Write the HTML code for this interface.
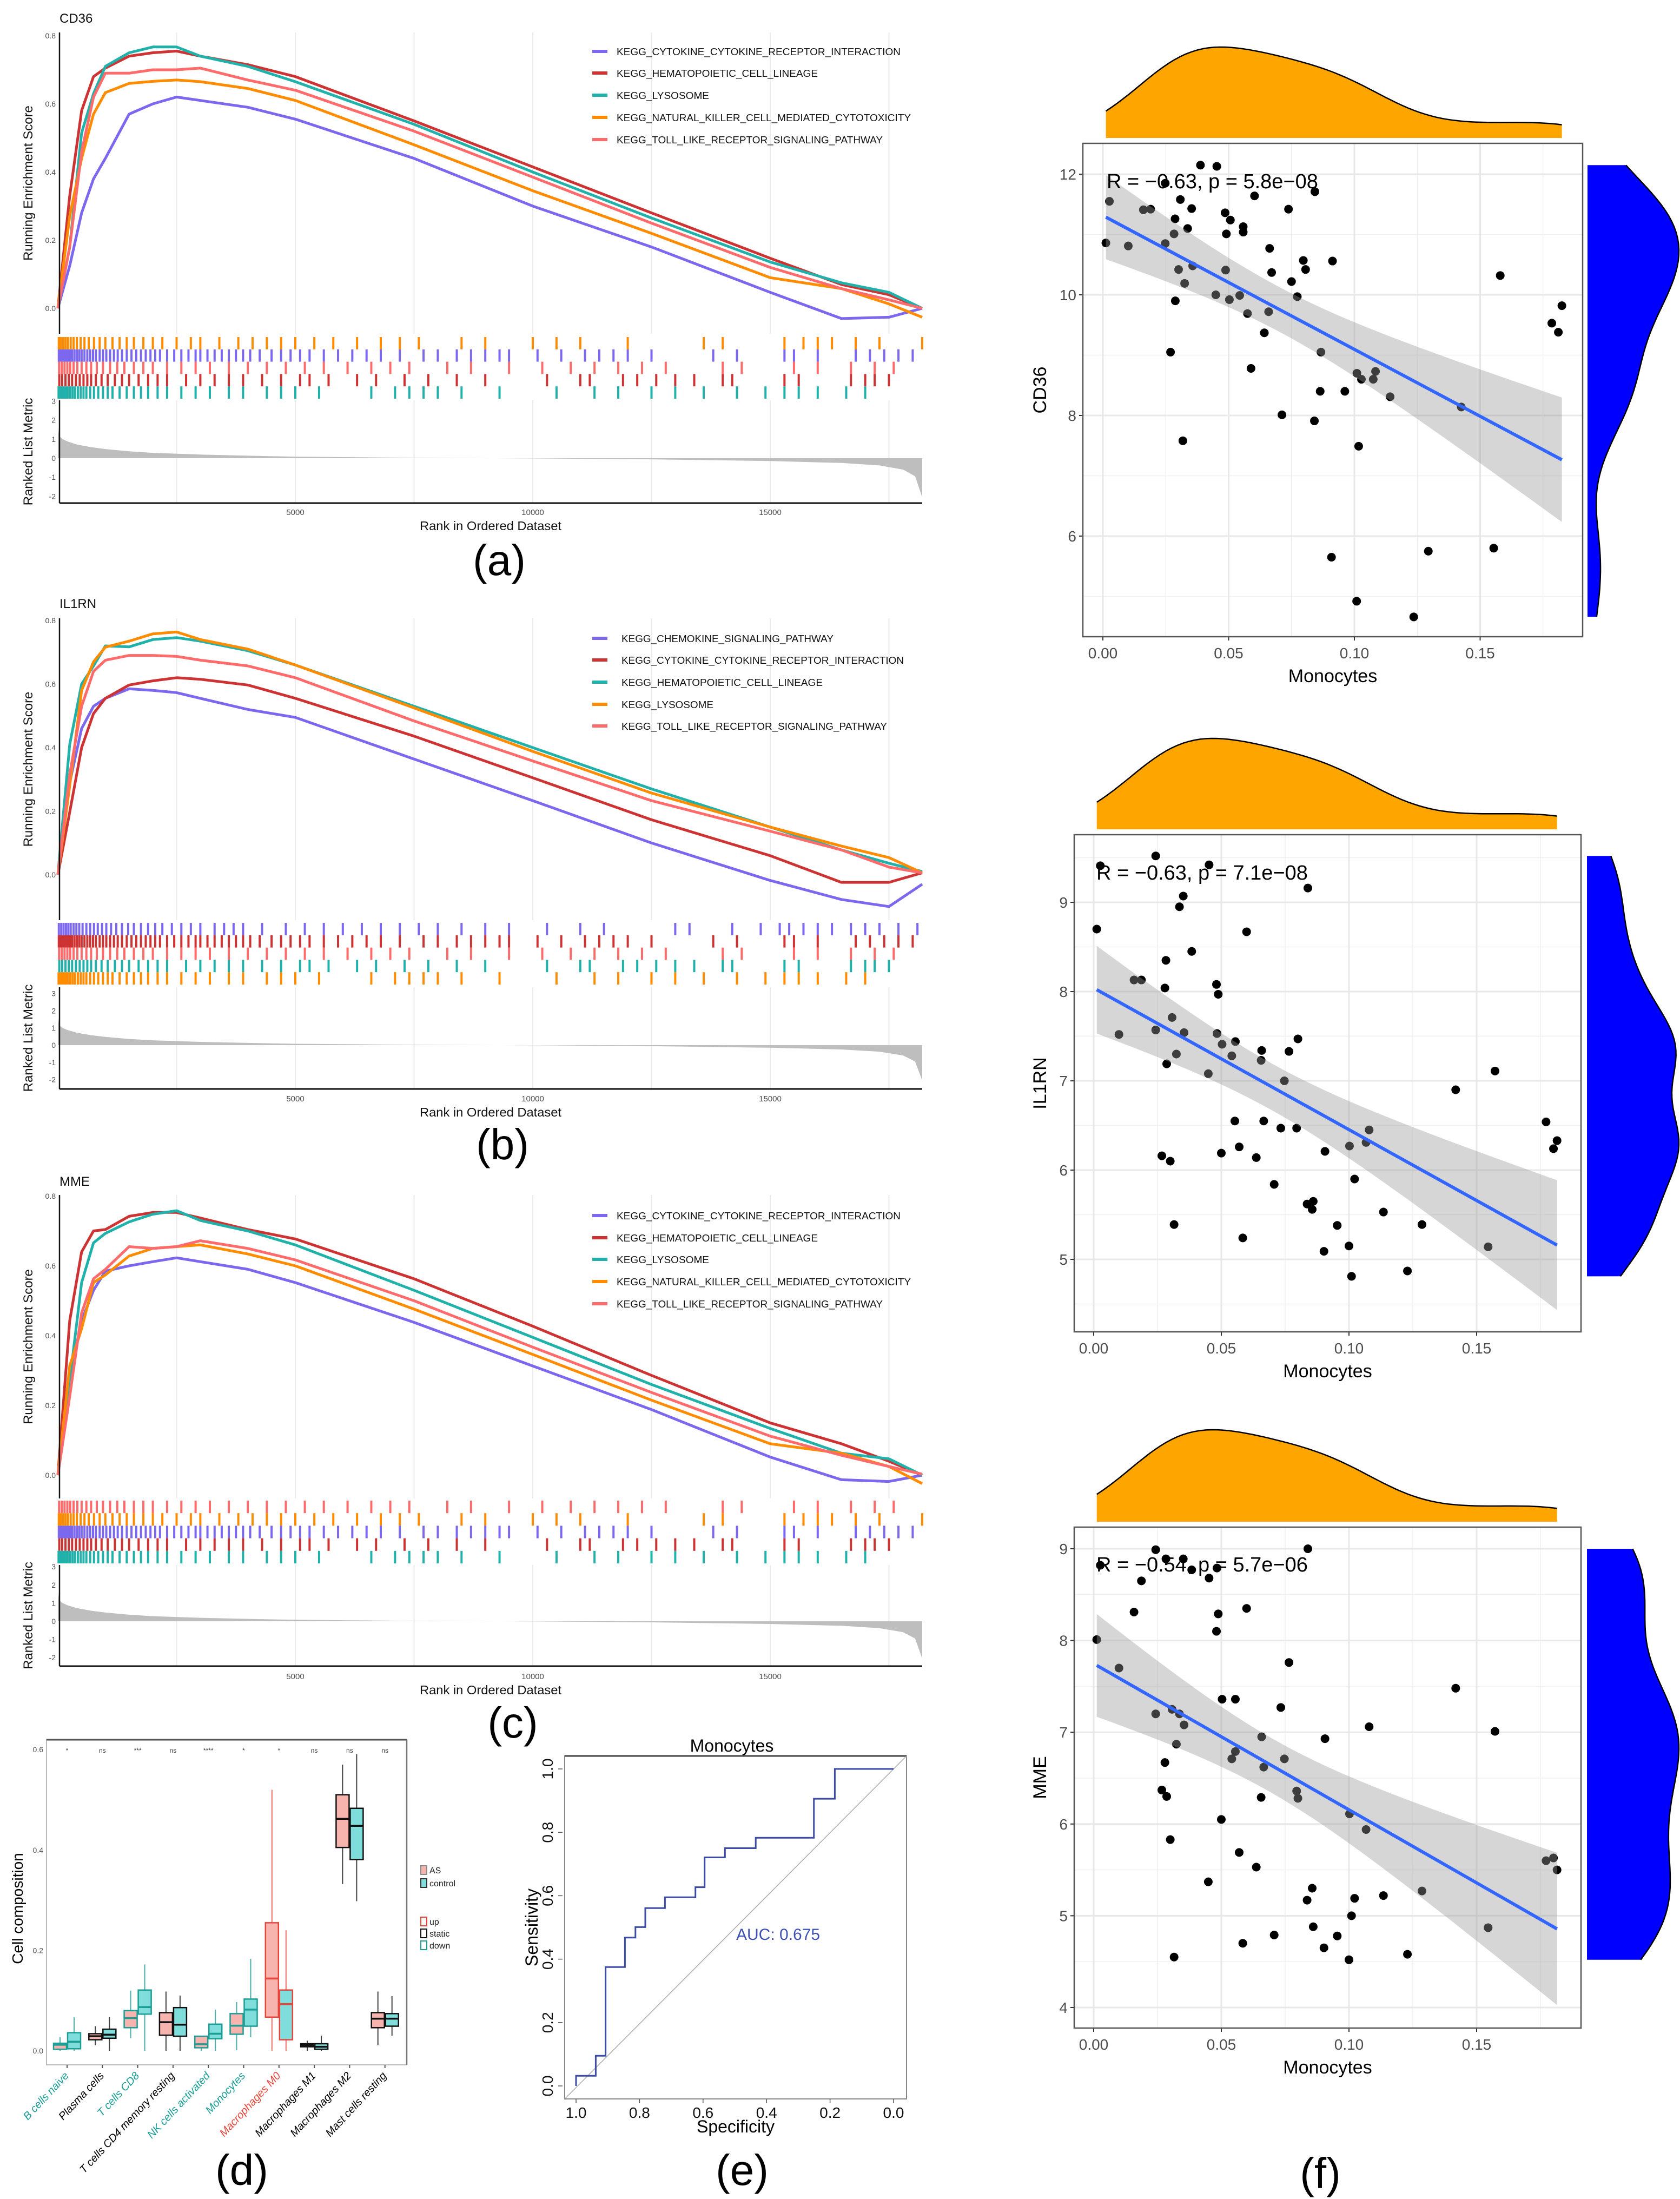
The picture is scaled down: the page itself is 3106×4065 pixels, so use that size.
<!DOCTYPE html>
<html><head><meta charset="utf-8"><title>Figure</title>
<style>html,body{margin:0;padding:0;background:#fff}svg{display:block}</style>
</head><body>
<svg id="fig" width="3106" height="4065" viewBox="0 0 3106 4065" xmlns="http://www.w3.org/2000/svg" font-family="Liberation Sans, Arial, sans-serif"></svg>
<script>
// ---------------- DATA ----------------
const gseaRanks=[0,250,500,750,1000,1500,2000,2500,3000,4000,5000,7500,10000,12500,15000,16500,17500,18200];
// Panel a (CD36)
const esA_cytokine=[0,0.125,0.28,0.38,0.44,0.57,0.60,0.62,0.61,0.59,0.555,0.44,0.30,0.18,0.047,-0.03,-0.026,0];
const esA_hemato=[0,0.33,0.58,0.68,0.705,0.74,0.75,0.755,0.74,0.715,0.68,0.55,0.415,0.28,0.147,0.07,0.04,0];
const esA_lyso=[0,0.18,0.515,0.63,0.71,0.75,0.767,0.767,0.74,0.71,0.665,0.54,0.40,0.265,0.136,0.075,0.047,0];
const esA_nk=[0,0.27,0.44,0.57,0.633,0.66,0.666,0.67,0.665,0.645,0.61,0.48,0.345,0.22,0.09,0.058,0.013,-0.026];
const esA_toll=[0,0.18,0.46,0.62,0.69,0.69,0.70,0.70,0.705,0.67,0.64,0.52,0.385,0.25,0.12,0.058,0.025,0];
// Panel b (IL1RN)
const esB_chemokine=[0,0.29,0.46,0.53,0.555,0.585,0.58,0.573,0.555,0.52,0.495,0.364,0.233,0.10,-0.018,-0.078,-0.10,-0.03];
const esB_cytokine=[0,0.197,0.40,0.507,0.555,0.597,0.61,0.62,0.615,0.597,0.555,0.436,0.305,0.173,0.06,-0.024,-0.024,0.006];
const esB_hemato=[0,0.41,0.60,0.657,0.72,0.717,0.74,0.746,0.735,0.705,0.66,0.53,0.40,0.27,0.15,0.078,0.036,0.01];
const esB_lyso=[0,0.28,0.58,0.67,0.716,0.735,0.758,0.764,0.74,0.71,0.66,0.525,0.388,0.257,0.15,0.09,0.054,0.006];
const esB_toll=[0,0.316,0.53,0.64,0.675,0.69,0.69,0.687,0.675,0.657,0.62,0.484,0.358,0.233,0.137,0.078,0.024,0.006];
// Panel c (MME)
const esC_cytokine=[0,0.28,0.443,0.53,0.585,0.60,0.612,0.623,0.612,0.59,0.552,0.438,0.313,0.188,0.052,-0.013,-0.018,0];
const esC_hemato=[0,0.443,0.64,0.70,0.704,0.742,0.753,0.753,0.737,0.704,0.677,0.563,0.427,0.286,0.15,0.09,0.04,0];
const esC_lyso=[0,0.27,0.552,0.666,0.693,0.726,0.748,0.758,0.73,0.70,0.66,0.53,0.395,0.26,0.134,0.063,0.047,0];
const esC_nk=[0,0.313,0.42,0.552,0.574,0.628,0.65,0.655,0.66,0.634,0.60,0.476,0.346,0.215,0.09,0.063,0.025,-0.024];
const esC_toll=[0,0.226,0.465,0.563,0.59,0.655,0.65,0.655,0.672,0.65,0.617,0.50,0.367,0.237,0.112,0.057,0.025,0.003];
// gene-set hit ranks (rug)
const hitsCytokine=[20,60,100,140,180,220,260,300,350,400,450,500,560,620,680,740,800,880,950,1020,1100,1180,1260,1350,1450,1550,1650,1750,1850,1950,2050,2150,2300,2450,2600,2750,2900,3000,3150,3300,3450,3600,3750,3900,4050,4250,4500,4700,4900,5100,5300,5600,5900,6200,6500,6800,7200,7700,8000,8400,8700,9000,9300,9500,10100,10600,11100,11400,11700,12000,12500,13800,14300,15300,15500,16000,16800,17100,17400,17700,18000];
const hitsChemokine=[20,70,120,170,220,270,330,390,450,520,600,680,760,840,930,1020,1120,1230,1350,1480,1600,1750,1900,2050,2200,2400,2600,2800,3000,3300,3500,3700,3900,4300,4800,5200,5600,6000,6400,6800,7200,7600,8000,8500,9000,9500,10300,11000,11500,13000,13300,14200,14800,15200,15400,15700,16000,16300,16700,17000,17300,17700,18100];
const hitsHemato=[30,90,160,230,300,380,460,540,620,700,800,920,1050,1200,1350,1500,1700,1900,2100,2300,2700,3000,3300,3600,3900,4300,4700,5100,5300,5700,6300,6700,7300,7800,8400,9000,10300,11000,11200,11900,12200,12600,13000,13400,14000,14200,15300,15600,16700,17000,17200,17500];
const hitsLyso=[15,50,90,130,170,210,260,310,360,420,480,540,600,680,760,850,950,1050,1150,1300,1450,1600,1750,1900,2100,2300,2600,2900,3200,3600,3900,4400,4700,5000,5500,6600,7100,7400,7700,8000,8500,9300,10500,11300,11800,12500,13000,13600,14300,14900,15300,15600,16000,16600,17000];
const hitsNK=[20,60,110,160,210,270,330,400,480,560,650,760,880,1000,1150,1300,1450,1600,1800,2000,2200,2500,2800,3000,3400,3800,4100,4400,4700,5000,5400,5800,6300,6800,7200,7600,8500,9000,10000,10500,11000,12000,13600,14000,15300,15700,16000,16300,16800,17300,18200];
const hitsToll=[25,80,140,200,260,330,410,500,600,700,820,950,1100,1250,1400,1600,1800,2000,2300,2600,2900,3200,3600,4000,4400,4800,5200,5600,6100,6600,7000,7400,8200,8700,9500,10200,10800,11300,11800,12300,12800,14000,14400,15500,16000,16700,17200,17600];
// ranked list metric
const metricRanks=[0,30,100,200,400,700,1000,1500,2000,3000,4000,5000,7500,10000,12500,15000,16500,17300,17800,18050,18200];
const metricVals=[1.6,1.15,1.0,0.88,0.72,0.58,0.48,0.36,0.28,0.19,0.13,0.08,0.02,-0.01,-0.06,-0.15,-0.25,-0.38,-0.6,-0.95,-2.05];

// Scatter (f) data: Monocytes fraction
const monoF1=[0.0388,0.0453,0.0026,0.0248,0.0308,0.0603,0.0843,0.0161,0.019,0.0353,0.0738,0.0287,0.0486,0.0507,0.0337,0.0283,0.0491,0.0558,0.0558,0.0012,0.0101,0.0248,0.0663,0.0797,0.0913,0.0357,0.0301,0.0488,0.0671,0.0806,0.0325,0.075,0.158,0.0449,0.0544,0.0773,0.0288,0.0503,0.1825,0.0575,0.0659,0.1785,0.1811,0.0642,0.0269,0.0867,0.0589,0.101,0.1028,0.1084,0.1075,0.0864,0.0962,0.1142,0.1425,0.0712,0.0841,0.0318,0.1017,0.0909,0.1294,0.1554,0.1009,0.1236];
const cd36=[12.15,12.13,11.55,11.85,11.58,11.64,11.71,11.41,11.42,11.43,11.42,11.26,11.36,11.24,11.10,11.01,11.01,11.13,11.04,10.86,10.81,10.85,10.77,10.57,10.56,10.48,10.42,10.41,10.37,10.42,10.19,10.22,10.32,10.0,9.99,9.97,9.90,9.92,9.82,9.69,9.72,9.53,9.38,9.37,9.05,9.05,8.78,8.70,8.60,8.73,8.60,8.40,8.40,8.31,8.14,8.01,7.91,7.58,7.49,5.65,5.75,5.80,4.92,4.66];
const monoF2=[0.0026,0.0243,0.0452,0.0839,0.0351,0.0336,0.0012,0.0599,0.0384,0.0283,0.0158,0.0187,0.0481,0.0279,0.0488,0.0307,0.0099,0.0243,0.0354,0.0483,0.080,0.0503,0.0555,0.0658,0.0765,0.0324,0.0541,0.0656,0.0286,0.0449,0.1572,0.0747,0.1418,0.0553,0.0666,0.0733,0.0795,0.1079,0.1772,0.1815,0.1801,0.1067,0.1002,0.057,0.0906,0.050,0.0267,0.030,0.0637,0.1022,0.0707,0.0836,0.086,0.0856,0.1135,0.0315,0.0954,0.1286,0.0584,0.1545,0.0902,0.10,0.1229,0.101];
const il1rn=[9.41,9.52,9.42,9.16,9.07,8.95,8.70,8.67,8.45,8.35,8.13,8.13,8.08,8.04,7.97,7.71,7.52,7.57,7.54,7.53,7.47,7.41,7.44,7.34,7.33,7.30,7.28,7.23,7.19,7.08,7.11,7.0,6.90,6.55,6.55,6.47,6.47,6.45,6.54,6.33,6.24,6.31,6.27,6.26,6.21,6.19,6.16,6.10,6.14,5.90,5.84,5.62,5.65,5.56,5.53,5.39,5.38,5.39,5.24,5.14,5.09,5.15,4.87,4.81];
const monoF3=[0.0026,0.0243,0.0283,0.0351,0.0384,0.0483,0.0839,0.0187,0.0452,0.0158,0.0599,0.0488,0.0481,0.0012,0.0099,0.0765,0.1418,0.0503,0.0555,0.0733,0.0307,0.0243,0.0336,0.0354,0.1079,0.1572,0.0658,0.0906,0.0324,0.0555,0.0541,0.0747,0.0279,0.0666,0.0267,0.0795,0.0286,0.0656,0.080,0.1002,0.050,0.1067,0.030,0.057,0.1772,0.1801,0.1815,0.0637,0.0449,0.0856,0.1286,0.1135,0.1022,0.0836,0.101,0.086,0.1545,0.0707,0.0954,0.0584,0.0902,0.1229,0.0315,0.10];
const mme=[8.82,8.99,8.89,8.89,8.77,8.79,9.0,8.65,8.68,8.31,8.35,8.29,8.10,8.01,7.70,7.76,7.48,7.36,7.36,7.27,7.25,7.20,7.20,7.08,7.06,7.01,6.95,6.93,6.87,6.79,6.71,6.71,6.67,6.62,6.37,6.36,6.30,6.29,6.28,6.11,6.05,5.94,5.83,5.69,5.60,5.63,5.50,5.53,5.37,5.30,5.27,5.22,5.19,5.17,5.0,4.88,4.87,4.79,4.78,4.70,4.65,4.58,4.55,4.52];

// Boxplot (d)
const cellTypes=["B cells naive","Plasma cells","T cells CD8","T cells CD4 memory resting","NK cells activated","Monocytes","Macrophages M0","Macrophages M1","Macrophages M2","Mast cells resting"];
const cellStatus=["down","static","down","static","down","down","up","static","static","static"];
const sigLabels=["*","ns","***","ns","****","*","*","ns","ns","ns"];
const asLo=[0,0.011,0.025,0,0,0.001,0,0,0.332,0.011];
const asQ1=[0.003,0.022,0.046,0.031,0.006,0.033,0.067,0.008,0.405,0.046];
const asMed=[0.012,0.029,0.065,0.057,0.013,0.05,0.144,0.011,0.462,0.064];
const asQ3=[0.015,0.034,0.080,0.076,0.029,0.074,0.255,0.014,0.51,0.076];
const asHi=[0.027,0.049,0.12,0.118,0.029,0.097,0.52,0.02,0.57,0.118];
const ctLo=[0,0,0,0,0,0.027,0,0,0.298,0.03];
const ctQ1=[0.004,0.025,0.073,0.029,0.024,0.049,0.022,0.003,0.381,0.049];
const ctMed=[0.018,0.032,0.087,0.052,0.034,0.082,0.093,0.008,0.448,0.064];
const ctQ3=[0.036,0.043,0.121,0.086,0.053,0.103,0.121,0.014,0.483,0.074];
const ctHi=[0.067,0.067,0.172,0.11,0.082,0.183,0.24,0.03,0.591,0.109];
const yTicksD=[0,0.2,0.4,0.6];

// ROC (e)
const rocSpec=[1,0.938,0.907,0.846,0.813,0.782,0.72,0.624,0.595,0.531,0.434,0.251,0.185,0.0];
const rocSens=[0.032,0.095,0.375,0.468,0.501,0.561,0.595,0.627,0.721,0.75,0.783,0.906,1.0,1.0];
const rocTicks=[0,0.2,0.4,0.6,0.8,1.0];
const rocAUC="0.675";

// ---------------- HELPERS ----------------
const NS='http://www.w3.org/2000/svg';
const svg=document.getElementById('fig');
function mk(tag,attrs,parent){const e=document.createElementNS(NS,tag);for(const k in attrs)e.setAttribute(k,attrs[k]);(parent||svg).appendChild(e);return e;}
function tx(x,y,s,size,attrs,parent){const a=Object.assign({x:x,y:y,'font-size':size},attrs||{});const t=mk('text',a,parent);t.textContent=s;return t;}
function grp(){return mk('g',{});}

// ---------------- GSEA PANELS ----------------
const COL={purple:'#7b68ee',red:'#cd3333',teal:'#20b2aa',orange:'#ff8c00',pink:'#ff6a6a'};
const gxs=r=>107+r*0.0878;
const gseaPanels=[
 {name:'a',title:'CD36',esTop:60,esBot:617,es0:570,esUnit:630,rugTop:623,rugBot:737,metTop:740,metBot:930,met0:847,metUnit:35.2,tickY:952,xtY:980,lblY:1063,titleY:42,legY:[95,135,176,217,258],legX:1140,
  series:[['KEGG_CYTOKINE_CYTOKINE_RECEPTOR_INTERACTION',COL.purple,esA_cytokine,hitsCytokine,525],['KEGG_HEMATOPOIETIC_CELL_LINEAGE',COL.red,esA_hemato,hitsHemato,372],['KEGG_LYSOSOME',COL.teal,esA_lyso,hitsLyso,171],['KEGG_NATURAL_KILLER_CELL_MEDIATED_CYTOTOXICITY',COL.orange,esA_nk,hitsNK,544],['KEGG_TOLL_LIKE_RECEPTOR_SIGNALING_PATHWAY',COL.pink,esA_toll,hitsToll,492]],rugOrder:[3,0,4,1,2]},
 {name:'b',title:'IL1RN',esTop:1143,esBot:1701,es0:1617,esUnit:587.5,rugTop:1706,rugBot:1820,metTop:1825,metBot:2013,met0:1932,metUnit:31.8,tickY:2036,xtY:2064,lblY:2143,titleY:1124,legY:[1180,1220,1261,1302,1342],legX:1149,
  series:[['KEGG_CHEMOKINE_SIGNALING_PATHWAY',COL.purple,esB_chemokine,hitsChemokine,392],['KEGG_CYTOKINE_CYTOKINE_RECEPTOR_INTERACTION',COL.red,esB_cytokine,hitsCytokine,522],['KEGG_HEMATOPOIETIC_CELL_LINEAGE',COL.teal,esB_hemato,hitsHemato,372],['KEGG_LYSOSOME',COL.orange,esB_lyso,hitsLyso,170],['KEGG_TOLL_LIKE_RECEPTOR_SIGNALING_PATHWAY',COL.pink,esB_toll,hitsToll,491]],rugOrder:[0,1,4,2,3]},
 {name:'c',title:'MME',esTop:2209,esBot:2770,es0:2727,esUnit:645,rugTop:2774,rugBot:2890,metTop:2893,metBot:3080,met0:2997,metUnit:33.6,tickY:3104,xtY:3132,lblY:3212,titleY:2192,legY:[2247,2288,2328,2369,2410],legX:1140,
  series:[['KEGG_CYTOKINE_CYTOKINE_RECEPTOR_INTERACTION',COL.purple,esC_cytokine,hitsCytokine,525],['KEGG_HEMATOPOIETIC_CELL_LINEAGE',COL.red,esC_hemato,hitsHemato,372],['KEGG_LYSOSOME',COL.teal,esC_lyso,hitsLyso,171],['KEGG_NATURAL_KILLER_CELL_MEDIATED_CYTOTOXICITY',COL.orange,esC_nk,hitsNK,544],['KEGG_TOLL_LIKE_RECEPTOR_SIGNALING_PATHWAY',COL.pink,esC_toll,hitsToll,492]],rugOrder:[4,3,0,1,2]}
];
const lblX={a:923,b:929,c:948};
gseaPanels.forEach(P=>{
  const g=grp();
  
  
  const ys=v=>P.es0-v*P.esUnit;
  const ms=v=>P.met0-v*P.metUnit;
  [2500,5000,7500,10000,12500,15000,17500].forEach(r=>{
    const l=mk('line',{x1:gxs(r),x2:gxs(r),y1:P.esTop,y2:P.esBot,stroke:'#ebebeb','stroke-width':2},g);
    
    
    const l2=mk('line',{x1:gxs(r),x2:gxs(r),y1:P.metTop,y2:P.metBot,stroke:'#ebebeb','stroke-width':2},g);
    
    
  });
  const t=tx(110,P.titleY,P.title,24,{fill:'#111'},g);
  
  
  P.series.forEach((s,i)=>{
    const pts=gseaRanks.map((r,k)=>gxs(r).toFixed(1)+','+ys(s[2][k]).toFixed(1)).join(' ');
    const pl=mk('polyline',{points:pts,fill:'none',stroke:s[1],'stroke-width':5,'stroke-linejoin':'round'},g);
    
    
    const ll=mk('line',{x1:1095,x2:1123,y1:P.legY[i],y2:P.legY[i],stroke:s[1],'stroke-width':6},g);
    
    
    const lt=tx(P.legX,P.legY[i]+7,s[0],18,{fill:'#111',textLength:s[4],lengthAdjust:'spacingAndGlyphs'},g);
    
    
  });
  const rh=(P.rugBot-P.rugTop)/5;
  P.rugOrder.forEach((si,row)=>{
    const s=P.series[si];
    s[3].forEach(r=>{
      const rl=mk('rect',{x:gxs(r)-2,y:P.rugTop+row*rh,width:4,height:rh,fill:s[1]},g);
      
      
    });
  });
  const mp=[gxs(0)+','+P.met0].concat(metricRanks.map((r,k)=>gxs(r).toFixed(1)+','+ms(metricVals[k]).toFixed(1))).concat([gxs(18200)+','+P.met0]).join(' ');
  const ma=mk('polygon',{points:mp,fill:'#bebebe'},g);
  
  
  const ax=mk('line',{x1:110,x2:110,y1:P.esTop,y2:P.esBot,stroke:'#111','stroke-width':2.5},g);
  
  
  const ax2=mk('line',{x1:110,x2:110,y1:P.metTop,y2:P.metBot,stroke:'#111','stroke-width':2.5},g);
  
  
  const ax3=mk('line',{x1:110,x2:1705,y1:P.metBot,y2:P.metBot,stroke:'#111','stroke-width':3},g);
  
  
  [0,0.2,0.4,0.6,0.8].forEach(v=>{
    const tl=tx(103,ys(v)+5,v.toFixed(1),14,{fill:'#4d4d4d','text-anchor':'end'},g);
    
    
  });
  [3,2,1,0,-1,-2].forEach(v=>{
    const tl=tx(103,ms(v)+5,String(v),14,{fill:'#4d4d4d','text-anchor':'end'},g);
    
    
  });
  [5000,10000,15000].forEach(r=>{
    const tl=tx(gxs(r),P.tickY,String(r),15,{fill:'#4d4d4d','text-anchor':'middle'},g);
    
    
  });
  const yt=tx(0,0,'Running Enrichment Score',24,{fill:'#111','text-anchor':'middle',transform:'translate(60,'+((P.esTop+P.esBot)/2)+') rotate(-90)'},g);
  
  
  const yt2=tx(0,0,'Ranked List Metric',24,{fill:'#111','text-anchor':'middle',transform:'translate(60,'+((P.metTop+P.metBot)/2)+') rotate(-90)'},g);
  
  
  const xt=tx(907,P.xtY,'Rank in Ordered Dataset',23,{fill:'#111','text-anchor':'middle',textLength:262,lengthAdjust:'spacingAndGlyphs'},g);
  
  
  const pl=tx(lblX[P.name],P.lblY,'('+P.name+')',80,{fill:'#000','text-anchor':'middle'},g);
  
  
});

// ---------------- SCATTER PANELS (f) ----------------
function kde(vals,lo,hi,n){
  const N=vals.length,m=vals.reduce((a,b)=>a+b,0)/N;
  const sd=Math.sqrt(vals.reduce((a,b)=>a+(b-m)*(b-m),0)/(N-1));
  const s=vals.slice().sort((a,b)=>a-b);
  const q=p=>{const h=(N-1)*p,i=Math.floor(h);return s[i]+(h-i)*((s[i+1]===undefined?s[i]:s[i+1])-s[i]);};
  const iqr=q(0.75)-q(0.25);
  const bw=0.9*Math.min(sd,iqr/1.34)*Math.pow(N,-0.2);
  const out=[];
  for(let i=0;i<=n;i++){const x=lo+(hi-lo)*i/n;let d=0;vals.forEach(v=>{const z=(x-v)/bw;d+=Math.exp(-0.5*z*z);});out.push([x,d]);}
  const mx=Math.max(...out.map(o=>o[1]));
  return out.map(o=>[o[0],o[1]/mx]);
}
const scatterPanels=[
 {name:'cd36',xs:monoF1,ys:cd36,ylab:'CD36',left:2002,right:2926,top:265,bottom:1177,x0:2039,xPer:4650,yRef:12,yRefPx:322,yPer:111.5,yTicks:[6,8,10,12],yMinor:[5,7,9,11],topBase:255,topH:168,rightX:2935,rightW:169,ann:'R = \u22120.63, p = 5.8e\u221208',annX:2046,annY:348},
 {name:'il1rn',xs:monoF2,ys:il1rn,ylab:'IL1RN',left:1986,right:2923,top:1543,bottom:2462,x0:2022,xPer:4720,yRef:9,yRefPx:1668,yPer:165,yTicks:[5,6,7,8,9],yMinor:[4.5,5.5,6.5,7.5,8.5,9.5],topBase:1533,topH:168,rightX:2934,rightW:170,ann:'R = \u22120.63, p = 7.1e\u221208',annX:2027,annY:1626},
 {name:'mme',xs:monoF3,ys:mme,ylab:'MME',left:1986,right:2923,top:2823,bottom:3749,x0:2022,xPer:4720,yRef:9,yRefPx:2863,yPer:169.6,yTicks:[4,5,6,7,8,9],yMinor:[4.5,5.5,6.5,7.5,8.5],topBase:2813,topH:170,rightX:2934,rightW:170,ann:'R = \u22120.54, p = 5.7e\u221206',annX:2027,annY:2905}
];
scatterPanels.forEach(S=>{
  const g=grp();
  
  
  const X=v=>S.x0+v*S.xPer, Y=v=>S.yRefPx-(v-S.yRef)*S.yPer;
  const bg=mk('rect',{x:S.left,y:S.top,width:S.right-S.left,height:S.bottom-S.top,fill:'#fff'},g);
  
  
  [0.025,0.075,0.125,0.175].forEach(v=>{const l=mk('line',{x1:X(v),x2:X(v),y1:S.top,y2:S.bottom,stroke:'#f0f0f0','stroke-width':1.5},g);
    
    });
  S.yMinor.forEach(v=>{if(Y(v)<S.top||Y(v)>S.bottom)return;const l=mk('line',{x1:S.left,x2:S.right,y1:Y(v),y2:Y(v),stroke:'#f0f0f0','stroke-width':1.5},g);
    
    });
  [0,0.05,0.1,0.15].forEach(v=>{const l=mk('line',{x1:X(v),x2:X(v),y1:S.top,y2:S.bottom,stroke:'#e8e8e8','stroke-width':3},g);
    
    
    const tl=tx(X(v),S.bottom+40,v.toFixed(2),28,{fill:'#4d4d4d','text-anchor':'middle'},g);
    
    
    const tk=mk('line',{x1:X(v),x2:X(v),y1:S.bottom,y2:S.bottom+7,stroke:'#333','stroke-width':2},g);
    
    });
  S.yTicks.forEach(v=>{const l=mk('line',{x1:S.left,x2:S.right,y1:Y(v),y2:Y(v),stroke:'#e8e8e8','stroke-width':3},g);
    
    
    const tl=tx(S.left-12,Y(v)+10,String(v),28,{fill:'#4d4d4d','text-anchor':'end'},g);
    
    
    const tk=mk('line',{x1:S.left-7,x2:S.left,y1:Y(v),y2:Y(v),stroke:'#333','stroke-width':2},g);
    
    });
  S.xs.forEach((xv,i)=>{const c=mk('circle',{cx:X(xv),cy:Y(S.ys[i]),r:8,fill:'#000'},g);
    
    });
  const n=S.xs.length,mx=S.xs.reduce((a,b)=>a+b,0)/n,my=S.ys.reduce((a,b)=>a+b,0)/n;
  let sxx=0,sxy=0;S.xs.forEach((x,i)=>{sxx+=(x-mx)*(x-mx);sxy+=(x-mx)*(S.ys[i]-my);});
  const b=sxy/sxx,a=my-b*mx;let sse=0;S.xs.forEach((x,i)=>{const r=S.ys[i]-(a+b*x);sse+=r*r;});
  const se=Math.sqrt(sse/(n-2));
  const xmin=Math.min(...S.xs),xmax=Math.max(...S.xs);
  const up=[],dn=[];
  for(let k=0;k<=40;k++){const x=xmin+(xmax-xmin)*k/40;const w=2.0*se*Math.sqrt(1/n+(x-mx)*(x-mx)/sxx);up.push(X(x).toFixed(1)+','+Y(a+b*x+w).toFixed(1));dn.unshift(X(x).toFixed(1)+','+Y(a+b*x-w).toFixed(1));}
  const band=mk('polygon',{points:up.concat(dn).join(' '),fill:'#999999','fill-opacity':0.4},g);
  
  
  const rl=mk('line',{x1:X(xmin),y1:Y(a+b*xmin),x2:X(xmax),y2:Y(a+b*xmax),stroke:'#3366ff','stroke-width':6},g);
  
  
  const bd=mk('rect',{x:S.left,y:S.top,width:S.right-S.left,height:S.bottom-S.top,fill:'none',stroke:'#555','stroke-width':2.5},g);
  
  
  const an=tx(S.annX,S.annY,S.ann,38,{fill:'#000'},g);
  
  
  const xt=tx((S.left+S.right)/2,S.bottom+84,'Monocytes',34,{fill:'#000','text-anchor':'middle'},g);
  
  
  const yt=tx(0,0,S.ylab,34,{fill:'#000','text-anchor':'middle',transform:'translate(1934,'+((S.top+S.bottom)/2)+') rotate(-90)'},g);
  
  
  const kx=kde(S.xs,xmin,xmax,80);
  const tp=kx.map(p=>X(p[0]).toFixed(1)+','+(S.topBase-p[1]*S.topH).toFixed(1));
  const tpoly=mk('polygon',{points:[X(xmin)+','+S.topBase].concat(tp).concat([X(xmax)+','+S.topBase]).join(' '),fill:'#ffa500'},g);
  
  
  const tl=mk('polyline',{points:tp.join(' '),fill:'none',stroke:'#000','stroke-width':2.5},g);
  
  
  const ymin=Math.min(...S.ys),ymax=Math.max(...S.ys);
  const ky=kde(S.ys,ymin,ymax,80);
  const rp=ky.map(p=>(S.rightX+p[1]*S.rightW).toFixed(1)+','+Y(p[0]).toFixed(1));
  const rpoly=mk('polygon',{points:[S.rightX+','+Y(ymin)].concat(rp).concat([S.rightX+','+Y(ymax)]).join(' '),fill:'#0000ff'},g);
  
  
  const rln=mk('polyline',{points:rp.join(' '),fill:'none',stroke:'#000','stroke-width':2.5},g);
  
  
});
const fl=tx(2441,4045,'(f)',80,{fill:'#000','text-anchor':'middle'});



// ---------------- BOXPLOT (d) ----------------
(function(){
  const g=grp();
  
  
  const Yd=v=>3791-v*928, Xd=i=>124+i*65.3;
  const stCol={down:'#1a9e96',static:'#111',up:'#e8453c'};
  const fr=mk('rect',{x:86,y:3216,width:666,height:601,fill:'none',stroke:'#bbb','stroke-width':2},g);
  
  
  const tpl=mk('line',{x1:86,x2:752,y1:3216,y2:3216,stroke:'#555','stroke-width':3},g);
  
  
  const rpl=mk('line',{x1:752,x2:752,y1:3216,y2:3817,stroke:'#777','stroke-width':2.5},g);
  
  
  yTicksD.forEach(v=>{const t=tx(80,Yd(v)+5,v.toFixed(1),14,{fill:'#555','text-anchor':'end'},g);
    
    });
  const yl=tx(0,0,'Cell composition',28,{fill:'#000','text-anchor':'middle',transform:'translate(42,3528) rotate(-90)'},g);
  
  
  cellTypes.forEach((c,i)=>{
    const cx=Xd(i),col=stCol[cellStatus[i]];
    const pairs=[[cx-13,'#f7b3ad',asLo[i],asQ1[i],asMed[i],asQ3[i],asHi[i],'as'],[cx+13,'#7fdedb',ctLo[i],ctQ1[i],ctMed[i],ctQ3[i],ctHi[i],'control']];
    pairs.forEach(p=>{
      const w=mk('line',{x1:p[0],x2:p[0],y1:Yd(p[2]),y2:Yd(p[6]),stroke:col,'stroke-width':2,'stroke-opacity':0.8},g);
      
      
      const bx=mk('rect',{x:p[0]-12,y:Yd(p[5]),width:24,height:Math.max(1,Yd(p[3])-Yd(p[5])),fill:p[1],stroke:col,'stroke-width':2.5},g);
      
      
      const md=mk('line',{x1:p[0]-12,x2:p[0]+12,y1:Yd(p[4]),y2:Yd(p[4]),stroke:col,'stroke-width':3.5},g);
      
      
    });
    const tk=mk('line',{x1:cx,x2:cx,y1:3817,y2:3823,stroke:'#555','stroke-width':2},g);
    
    
    const lab=tx(0,0,c,20,{fill:col==='#111'?'#000':col,'text-anchor':'end','font-style':'italic',transform:'translate('+(cx+4)+',3838) rotate(-47)'},g);
    
    
    const sg=tx(cx,3240,sigLabels[i],12,{fill:'#333','text-anchor':'middle'},g);
    
    
  });
  const leg=[['AS','#f7b3ad','#888',3458],['control','#7fdedb','#333',3482],['up','#fff','#e8453c',3553],['static','#fff','#111',3575],['down','#fff','#1a9e96',3597]];
  leg.forEach(l=>{
    const r=mk('rect',{x:778,y:l[3]-9,width:11,height:16,fill:l[1],stroke:l[2],'stroke-width':2},g);
    
    
    const t=tx(794,l[3]+5,l[0],16,{fill:'#222'},g);
    
    
  });
  const dl=tx(447,4039,'(d)',80,{fill:'#000','text-anchor':'middle'},g);
  
  
})();

// ---------------- ROC (e) ----------------
(function(){
  const g=grp();
  
  
  const Xe=s=>1065+(1-s)*587, Ye=v=>3856-v*586;
  const fr=mk('rect',{x:1044,y:3246,width:632,height:634,fill:'none',stroke:'#888','stroke-width':2},g);
  
  
  const tpl=mk('line',{x1:1044,x2:1676,y1:3246,y2:3246,stroke:'#444','stroke-width':3},g);
  
  
  const dg=mk('line',{x1:1044,y1:3880,x2:1676,y2:3246,stroke:'#aaa','stroke-width':1.5},g);
  
  
  let d='M'+Xe(1)+' '+Ye(0);
  rocSpec.forEach((s,i)=>{d+=' L'+Xe(s).toFixed(1)+' '+Ye(rocSens[i]).toFixed(1);if(i<rocSpec.length-1)d+=' L'+Xe(rocSpec[i+1]).toFixed(1)+' '+Ye(rocSens[i]).toFixed(1);});
  const pc=mk('path',{d:d,fill:'none',stroke:'#3b4ba6','stroke-width':3},g);
  
  
  rocTicks.forEach(v=>{
    const t=tx(Xe(v),3915,v.toFixed(1),28,{fill:'#111','text-anchor':'middle'},g);
    
    
    const t2=tx(0,0,v.toFixed(1),28,{fill:'#111','text-anchor':'middle',transform:'translate(1022,'+Ye(v)+') rotate(-90)'},g);
    
    
    const tk=mk('line',{x1:1032,x2:1040,y1:Ye(v),y2:Ye(v),stroke:'#555','stroke-width':1.5},g);
    
    
    const tk2=mk('line',{x1:Xe(v),x2:Xe(v),y1:3880,y2:3888,stroke:'#555','stroke-width':1.5},g);
    
    
  });
  const ti=tx(1353,3238,'Monocytes',32,{fill:'#000','text-anchor':'middle'},g);
  
  
  const xl=tx(1360,3942,'Specificity',32,{fill:'#000','text-anchor':'middle'},g);
  
  
  const yl=tx(0,0,'Sensitivity',32,{fill:'#000','text-anchor':'middle',transform:'translate(994,3563) rotate(-90)'},g);
  
  
  const au=tx(1361,3586,'AUC: '+rocAUC,30,{fill:'#3f51b5'},g);
  
  
  const el=tx(1372,4039,'(e)',80,{fill:'#000','text-anchor':'middle'},g);
  
  
})();
</script>
</body></html>
